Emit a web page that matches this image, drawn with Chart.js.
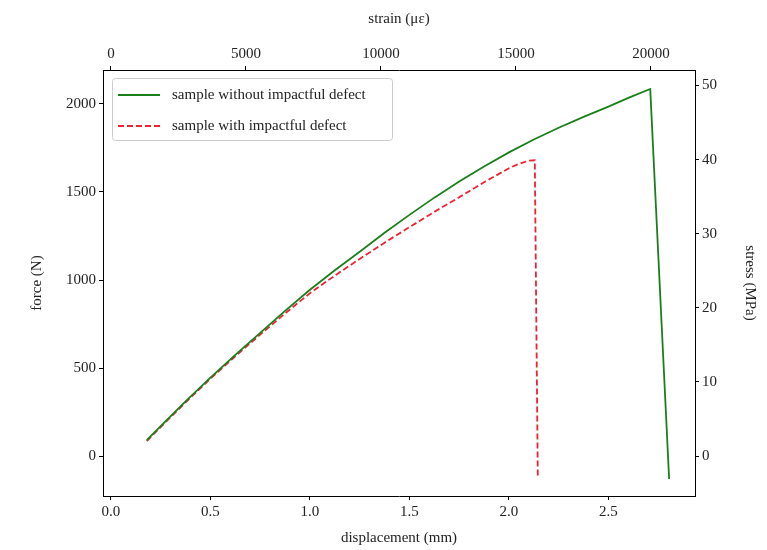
<!DOCTYPE html>
<html lang="en">
<head>
<meta charset="utf-8">
<script src="https://cdn.jsdelivr.net/npm/chart.js@4.4.1/dist/chart.umd.min.js"></script>
<style>
  body { margin: 0; background: #fff; }
  #box { width: 767px; height: 550px; }
</style>
</head>
<body>
<div id="box"><canvas id="plot"></canvas></div>
<script>
// sample without impactful defect
const dispWithout = [0.18, 0.25, 0.375, 0.5, 0.625, 0.75, 0.875, 1.0, 1.125, 1.25, 1.375, 1.5,
    1.625, 1.75, 1.875, 2.0, 2.125, 2.25, 2.375, 2.5, 2.6, 2.71, 2.805];
const forceWithout = [90, 170, 310, 445, 575, 700, 825, 945, 1055, 1160, 1268, 1370,
    1468, 1560, 1645, 1725, 1798, 1865, 1927, 1985, 2035, 2085, -130];
// sample with impactful defect
const dispWith = [0.18, 0.25, 0.375, 0.5, 0.625, 0.75, 0.875, 1.0, 1.125, 1.25, 1.375, 1.5,
    1.625, 1.75, 1.875, 2.0, 2.05, 2.1, 2.13, 2.145];
const forceWith = [85, 165, 305, 440, 567, 690, 810, 925, 1025, 1120, 1212, 1300,
    1387, 1470, 1555, 1635, 1660, 1678, 1680, -120];

const dispTicks = [0, 0.5, 1.0, 1.5, 2.0, 2.5];
const strainTicks = [0, 5000, 10000, 15000, 20000];
const forceTicks = [0, 500, 1000, 1500, 2000];
const stressTicks = [0, 10, 20, 30, 40, 50];

// axis ranges (strain = disp * 7370, stress = force / 42.1)
const dispMin = -0.04, dispMax = 2.935;
const strainPerMm = 7370;
const forceMin = -227, forceMax = 2193;
const forcePerMPa = 42.1;

const serif = 'Liberation Serif';

function pairs(xs, ys) {
    return xs.map((x, i) => ({ x: x, y: ys[i] }));
}

function fixTicks(list) {
    return (scale) => { scale.ticks = list.map((v) => ({ value: v })); };
}

function axisStyle() {
    return {
        border: { display: true, color: '#000', width: 1 },
        grid: { drawOnChartArea: false, drawTicks: true, tickLength: 4, color: '#000' },
        ticks: { color: '#222', font: { family: serif, size: 15 }, padding: 3, callback: (v) => String(v) },
        title: { display: true, color: '#222', font: { family: serif, size: 15 } },
    };
}

const legendBox = {
    id: 'legendBox',
    afterDraw(chart) {
        const ctx = chart.ctx;
        const x = chart.chartArea.left + 9, y = chart.chartArea.top + 8;
        const w = 280, h = 62;
        ctx.save();
        ctx.fillStyle = 'rgba(255,255,255,0.85)';
        ctx.strokeStyle = '#ccc';
        ctx.lineWidth = 1;
        ctx.beginPath();
        ctx.roundRect(x + 0.5, y + 0.5, w, h, 3);
        ctx.fill();
        ctx.stroke();
        chart.data.datasets.forEach((ds, i) => {
            const ly = y + 17 + i * 31;
            ctx.strokeStyle = ds.borderColor;
            ctx.lineWidth = ds.borderWidth;
            ctx.setLineDash(ds.borderDash || []);
            ctx.beginPath();
            ctx.moveTo(x + 6, ly);
            ctx.lineTo(x + 48, ly);
            ctx.stroke();
            ctx.setLineDash([]);
            ctx.fillStyle = '#222';
            ctx.font = '15px "' + serif + '"';
            ctx.textBaseline = 'middle';
            ctx.fillText(ds.label, x + 60, ly);
        });
        ctx.restore();
    }
};

const bottomAxis = axisStyle();
const topAxis = axisStyle();
const leftAxis = axisStyle();
const rightAxis = axisStyle();

new Chart(document.getElementById('plot'), {
    type: 'line',
    data: {
        datasets: [
            {
                label: 'sample without impactful defect',
                data: pairs(dispWithout, forceWithout),
                borderColor: '#1a7f1a',
                borderWidth: 1.8,
                pointRadius: 0,
                tension: 0,
                xAxisID: 'x',
                yAxisID: 'y',
            },
            {
                label: 'sample with impactful defect',
                data: pairs(dispWith, forceWith),
                borderColor: '#ee2233',
                borderWidth: 1.8,
                borderDash: [6, 3],
                pointRadius: 0,
                tension: 0,
                xAxisID: 'x',
                yAxisID: 'y',
            },
        ]
    },
    options: {
        responsive: true,
        maintainAspectRatio: false,
        animation: false,
        layout: { padding: 0 },
        plugins: { legend: { display: false }, tooltip: { enabled: false } },
        scales: {
            x: {
                ...bottomAxis, type: 'linear', position: 'bottom',
                min: dispMin, max: dispMax,
                title: { ...bottomAxis.title, text: 'displacement (mm)', padding: { top: 0, bottom: 3 } },
                ticks: { ...bottomAxis.ticks, callback: (v) => v.toFixed(1) },
                afterBuildTicks: fixTicks(dispTicks),
                afterFit: (s) => { s.height = 54; },
            },
            x2: {
                ...topAxis, type: 'linear', position: 'top',
                min: dispMin * strainPerMm, max: dispMax * strainPerMm,
                title: { ...topAxis.title, text: 'strain (\u03bc\u025b)', padding: { top: 10, bottom: 0 } },
                afterBuildTicks: fixTicks(strainTicks),
                afterFit: (s) => { s.height = 70; },
            },
            y: {
                ...leftAxis, type: 'linear', position: 'left',
                min: forceMin, max: forceMax,
                title: { ...leftAxis.title, text: 'force (N)', padding: { top: 28, bottom: 0 } },
                afterBuildTicks: fixTicks(forceTicks),
                afterFit: (s) => { s.width = 103; },
            },
            y2: {
                ...rightAxis, type: 'linear', position: 'right',
                min: forceMin / forcePerMPa, max: forceMax / forcePerMPa,
                title: { ...rightAxis.title, text: 'stress (MPa)', padding: { top: 8, bottom: 0 } },
                afterBuildTicks: fixTicks(stressTicks),
                afterFit: (s) => { s.width = 72; },
            },
        }
    },
    plugins: [legendBox]
});
</script>
</body>
</html>
